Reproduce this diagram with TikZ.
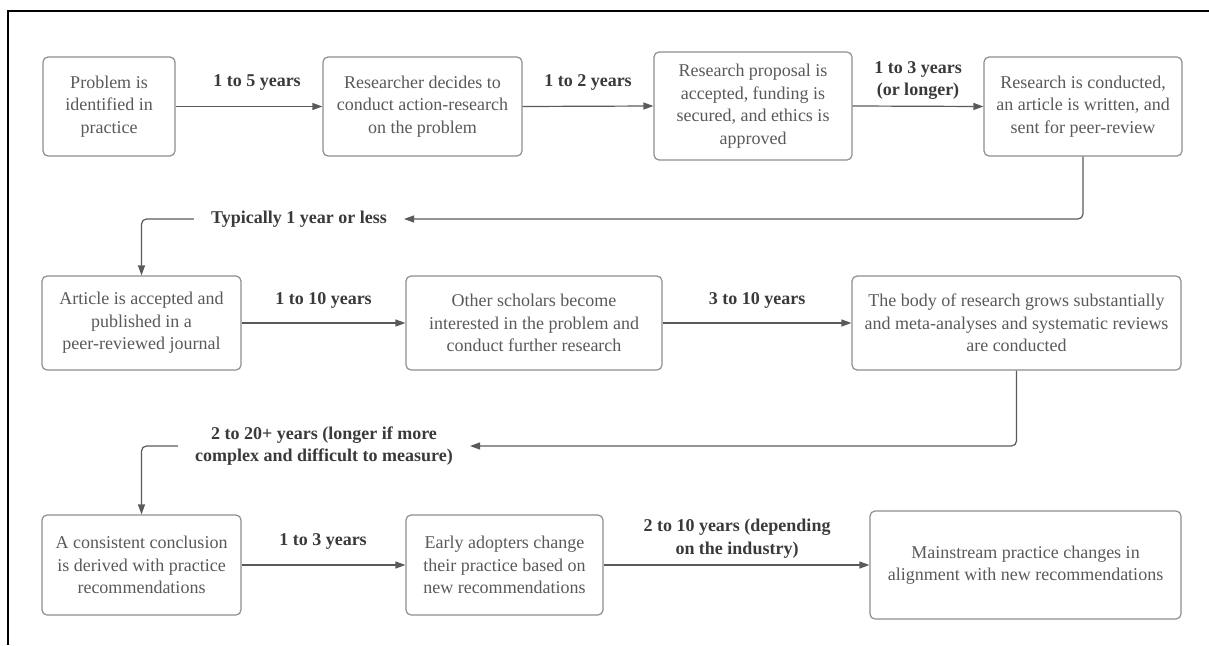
\documentclass[tikz,border=0pt]{standalone}
\usepackage{fontspec}
\setmainfont{Liberation Serif}
\usetikzlibrary{arrows.meta}
\definecolor{boxline}{HTML}{8E8E8E}
\definecolor{boxtext}{HTML}{595959}
\definecolor{labtext}{HTML}{3A3A3A}
\definecolor{conncol}{HTML}{5A5A5A}
\begin{document}
\begin{tikzpicture}[x=1pt,y=-1pt,
  box/.style={draw=boxline, line width=1.2pt, rounded corners=5pt, align=center, text=boxtext, font=\fontsize{18}{22.5}\selectfont, inner sep=0pt},
  lab/.style={align=center, text=labtext, font=\fontsize{18}{22.5}\selectfont\bfseries, inner sep=0pt},
  retlab/.style={lab, inner xsep=17pt},
  conn/.style={draw=conncol, line width=1.2pt, -{Triangle[length=10pt,width=7pt]}, rounded corners=5pt},
]
\useasboundingbox (0,0) rectangle (1209,645);
\draw[line width=2pt, black] (8,645) -- (8,11) -- (1209,11);

% row 1
\node[box, minimum width=132pt, minimum height=99pt] (A1) at (109,106.5) {Problem is\\identified in\\practice};
\node[box, minimum width=199pt, minimum height=99pt] (A2) at (422.5,106.5) {Researcher decides to\\conduct action-research\\on the problem};
\node[box, minimum width=198pt, minimum height=108pt] (A3) at (753,106) {Research proposal is\\accepted, funding is\\secured, and ethics is\\approved};
\node[box, minimum width=198pt, minimum height=99pt] (A4) at (1083,106.5) {Research is conducted,\\an article is written, and\\sent for peer-review};

% row 2
\node[box, minimum width=199pt, minimum height=94pt] (A5) at (141.5,323) {Article is accepted and\\published in a\\peer-reviewed journal};
\node[box, minimum width=256pt, minimum height=94pt] (A6) at (534,323) {Other scholars become\\interested in the problem and\\conduct further research};
\node[box, minimum width=329pt, minimum height=94pt] (A7) at (1016.5,323) {The body of research grows substantially\\and meta-analyses and systematic reviews\\are conducted};

% row 3
\node[box, minimum width=199pt, minimum height=100pt] (A8) at (141.5,565) {A consistent conclusion\\is derived with practice\\recommendations};
\node[box, minimum width=197pt, minimum height=100pt] (A9) at (504.5,565) {Early adopters change\\their practice based on\\new recommendations};
\node[box, minimum width=311pt, minimum height=108pt] (A10) at (1025.5,565) {Mainstream practice changes in\\alignment with new recommendations};

% labels
\node[lab] (L12) at (257,82) {1 to 5 years};
\node[lab] (L23) at (588,82) {1 to 2 years};
\node[lab] (L34) at (918,80.5) {1 to 3 years\\(or longer)};
\node[lab] (L56) at (323.5,300) {1 to 10 years};
\node[lab] (L67) at (757,300) {3 to 10 years};
\node[lab] (L89) at (323,541) {1 to 3 years};
\node[lab] (L910) at (737,538.5) {2 to 10 years (depending\\on the industry)};
\node[retlab] (R1) at (299,219) {Typically 1 year or less};
\node[retlab] (R2) at (324,446) {2 to 20+ years (longer if more\\complex and difficult to measure)};

% connectors
\draw[conn] (A1.east) -- (A2.west);
\draw[conn] (A2.east) -- (A3.west);
\draw[conn] (A3.east) -- (A4.west);
\draw[conn] (A4.south) |- (R1.east);
\draw[conn] (R1.west) -| (A5.north);
\draw[conn] (A5.east) -- (A6.west);
\draw[conn] (A6.east) -- (A7.west);
\draw[conn] (A7.south) |- (R2.east);
\draw[conn] (R2.west) -| (A8.north);
\draw[conn] (A8.east) -- (A9.west);
\draw[conn] (A9.east) -- (A10.west);
\end{tikzpicture}
\end{document}
